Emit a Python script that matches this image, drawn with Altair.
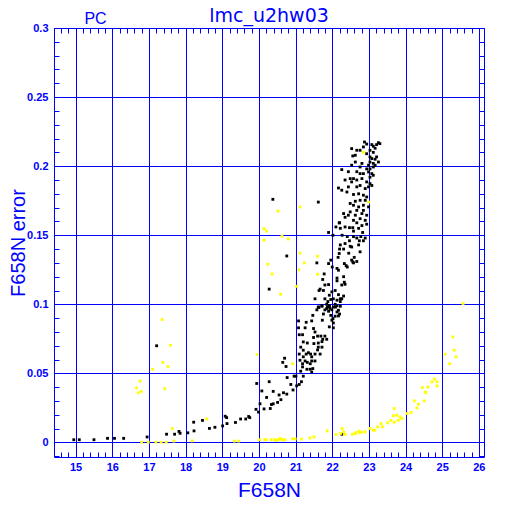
import altair as alt
import pandas as pd

# ---- data ----
BLACK_MAG = [
    14.95, 15.1, 15.5, 15.87, 16.06, 16.31, 16.95, 17.21, 17.48, 17.7, 17.82, 17.85, 18.06, 18.22, 18.23,
    18.46, 18.65, 18.8, 19.01, 19.08, 19.12, 19.13, 19.36, 19.5, 19.64, 19.72, 19.75, 19.92, 19.94, 19.99,
    20.03, 20.08, 20.14, 20.21, 20.28, 20.31, 20.34, 20.39, 20.39, 20.51, 20.55, 20.6, 20.67, 20.76, 20.77,
    20.87, 20.93, 20.96, 21.03, 21.1, 21.16, 20.65, 20.74, 20.7, 22.26,
    21.08, 21.08, 21.1, 21.19, 21.29, 21.44, 21.62, 21.72, 21.76, 21.73, 21.8, 21.85, 21.92, 21.9, 21.94,
    21.99, 22.03, 22.09, 22.13, 22.2, 22.17, 22.22, 21.92, 22.03, 21.26, 21.49, 21.53, 21.6, 21.69, 21.8,
    21.85, 21.74, 21.72, 21.49, 21.5, 21.62, 21.62, 21.72, 21.6, 21.67, 21.53, 21.41, 21.35, 21.29, 21.21,
    21.26, 21.32, 21.44, 21.4, 21.53, 21.44, 21.19, 21.31, 21.4, 21.47, 21.44, 21.14, 21.21, 21.01, 21.19,
    21.12, 21.1, 21.14, 21.21, 21.32, 21.21, 21.58, 21.47, 21.96, 22.08, 22.02, 21.88, 22.13, 22.17,
    22.1, 22.2, 22.22, 22.35, 22.47, 22.56, 22.58, 22.72, 22.81, 22.94, 22.83, 22.67, 21.9, 22.02, 22.27,
    22.41, 22.47, 22.58, 22.67, 22.74, 22.78, 22.85, 22.9, 22.22, 22.35, 22.49, 22.53, 22.72, 22.2, 22.31,
    22.45, 22.76, 22.6, 22.67, 22.53, 22.58, 22.33, 22.38, 22.16, 22.19, 21.96, 21.9, 21.58, 22.0, 22.13,
    22.17, 22.31, 22.33, 22.35, 22.26, 22.13, 22.13, 22.08, 21.78, 21.8, 21.9, 21.76, 21.67, 21.53, 21.8,
    21.92, 21.99, 21.96, 22.03, 22.17, 22.22, 22.26, 22.31, 22.13, 21.92, 22.03, 22.08, 21.72, 21.85,
    21.99, 21.62, 22.22, 22.41, 22.56, 20.38, 21.62, 20.76, 20.28, 21.74, 21.64, 21.64, 21.87,
    22.88, 22.94, 23.08, 23.12, 23.17, 23.21, 23.26, 23.3, 22.85, 22.76, 22.67, 22.53, 22.56, 22.63, 22.94,
    23.03, 23.12, 23.03, 23.08, 23.17, 23.21, 23.26, 23.17, 23.12, 23.03, 22.99, 22.81, 22.63, 22.53, 22.76,
    22.94, 23.03, 23.12, 22.99, 23.08, 23.12, 23.03, 22.85, 22.76, 22.67, 22.26, 22.44, 22.49, 22.58, 22.67,
    22.81, 22.94, 23.03, 23.08, 22.99, 22.9, 22.76, 22.67, 22.53, 22.44, 22.35, 22.17, 22.26, 22.4, 22.58,
    22.72, 22.85, 22.94, 22.9, 22.76, 22.63, 22.49, 22.58, 22.72, 22.85, 22.99, 22.85, 22.67, 22.49, 22.31,
    22.44, 22.63, 22.81, 22.94, 22.76, 22.9, 22.58, 22.35, 22.19,
]
BLACK_ERR = [
    0.002, 0.002, 0.002, 0.003, 0.003, 0.003, 0.004, 0.070, 0.006, 0.006, 0.008, 0.0067, 0.007, 0.0147, 0.0084,
    0.016, 0.0102, 0.011, 0.012, 0.019, 0.018, 0.0137, 0.0145, 0.017, 0.017, 0.0188, 0.018, 0.024, 0.0427, 0.022,
    0.028, 0.0373, 0.0243, 0.0326, 0.044, 0.0246, 0.0275, 0.028, 0.037, 0.029, 0.0344, 0.031, 0.036, 0.035, 0.047,
    0.042, 0.038, 0.048, 0.041, 0.042, 0.044, 0.058, 0.055, 0.061, 0.006,
    0.088, 0.083, 0.078, 0.078, 0.087, 0.088, 0.098, 0.099, 0.093, 0.0885, 0.096, 0.1, 0.099, 0.095, 0.097,
    0.0885, 0.0865, 0.098, 0.0945, 0.093, 0.0916, 0.102, 0.0837, 0.083, 0.083, 0.0825, 0.08, 0.077, 0.077, 0.077,
    0.0747, 0.0747, 0.073, 0.076, 0.0716, 0.072, 0.069, 0.069, 0.067, 0.064, 0.064, 0.064, 0.065, 0.064, 0.062,
    0.059, 0.058, 0.059, 0.057, 0.059, 0.062, 0.057, 0.053, 0.053, 0.0535, 0.051, 0.0516, 0.048, 0.048, 0.0547,
    0.0595, 0.064, 0.069, 0.0728, 0.072, 0.0668, 0.096, 0.092, 0.092, 0.0914, 0.0897, 0.102, 0.099, 0.0957,
    0.156, 0.159, 0.155, 0.156, 0.1555, 0.1555, 0.153, 0.155, 0.157, 0.158, 0.152, 0.159, 0.152, 0.15, 0.15,
    0.149, 0.146, 0.149, 0.148, 0.146, 0.149, 0.146, 0.148, 0.143, 0.144, 0.142, 0.1415, 0.143, 0.14, 0.14,
    0.137, 0.138, 0.134, 0.131, 0.132, 0.13, 0.1295, 0.128, 0.134, 0.1368, 0.132, 0.1295, 0.13, 0.127, 0.126,
    0.1247, 0.12, 0.116, 0.1145, 0.114, 0.119, 0.117, 0.11, 0.122, 0.114, 0.1143, 0.11, 0.111, 0.104, 0.104,
    0.1066, 0.109, 0.1035, 0.104, 0.107, 0.104, 0.104, 0.106, 0.103, 0.0986, 0.098, 0.1, 0.0986, 0.097,
    0.096, 0.0977, 0.0986, 0.127, 0.1307, 0.176, 0.174, 0.135, 0.111, 0.118, 0.11, 0.098, 0.098,
    0.2175, 0.216, 0.2156, 0.2144, 0.213, 0.2156, 0.217, 0.2163, 0.2139, 0.2115, 0.2115, 0.2127, 0.2074, 0.2079, 0.209,
    0.2115, 0.21, 0.2067, 0.2055, 0.205, 0.2067, 0.203, 0.2007, 0.202, 0.203, 0.2007, 0.202, 0.203, 0.2007, 0.1994,
    0.198, 0.198, 0.1994, 0.1958, 0.1946, 0.1934, 0.192, 0.1946, 0.1946, 0.196, 0.1975, 0.196, 0.191, 0.191, 0.19,
    0.191, 0.1886, 0.1874, 0.186, 0.185, 0.1838, 0.186, 0.185, 0.1886, 0.185, 0.19, 0.1842, 0.1826, 0.1813, 0.1795,
    0.18, 0.179, 0.1777, 0.1753, 0.1753, 0.1746, 0.173, 0.1717, 0.1705, 0.1717, 0.1705, 0.168, 0.168, 0.1669, 0.1657,
    0.1645, 0.1645, 0.1657, 0.1645, 0.162, 0.1608, 0.1608, 0.163, 0.159,
]
YELLOW_MAG = [
    17.36, 17.59, 17.38, 17.52, 17.1, 16.76, 16.66, 16.71, 16.79, 17.43, 18.58, 17.64, 18.18, 16.8, 16.98,
    17.19, 17.33, 17.47, 17.68, 19.33, 19.45, 20.02, 20.16, 20.33, 20.47, 20.53, 20.6, 20.65, 20.71, 20.92,
    20.99, 21.16, 21.39, 21.5, 21.86, 22.1, 22.27, 22.31, 22.35, 22.55, 22.65, 22.73, 22.81, 22.9, 23.03,
    23.12, 23.16, 23.24, 23.33, 23.37, 23.51, 23.6, 23.69, 23.67, 23.76, 23.8, 23.85, 23.9, 24.04, 24.15,
    24.24, 24.31, 24.35, 24.46, 24.54, 24.51, 24.61, 24.72, 24.86, 24.86, 24.79, 24.55, 23.69, 22.76, 22.63,
    22.23, 20.2, 20.42, 20.57,
    25.08, 25.2, 25.29, 25.33, 25.38, 25.57, 19.95, 22.85, 22.99, 20.52, 21.12, 20.14, 20.21, 20.14, 20.63,
    20.8, 21.12, 21.24, 21.6, 20.24, 21.09, 20.36, 21.6, 21.03, 20.59, 20.92,
]
YELLOW_ERR = [
    0.089, 0.0704, 0.058, 0.055, 0.053, 0.0444, 0.0395, 0.036, 0.037, 0.039, 0.017, 0.0101, 0.0012, 0.0002, 0.0002,
    0.0002, 0.0002, 0.0002, 0.001, 0.001, 0.001, 0.002, 0.002, 0.002, 0.0017, 0.002, 0.0026, 0.002, 0.002, 0.0026,
    0.0026, 0.0024, 0.0033, 0.004, 0.0084, 0.0058, 0.0101, 0.0077, 0.0058, 0.006, 0.0072, 0.0082, 0.0075, 0.0077, 0.0101,
    0.0089, 0.0089, 0.0113, 0.0137, 0.0113, 0.0142, 0.016, 0.0246, 0.0193, 0.0198, 0.016, 0.0185, 0.0174, 0.021, 0.0217,
    0.0301, 0.025, 0.0277, 0.0398, 0.0366, 0.0301, 0.0402, 0.0439, 0.0439, 0.041, 0.0458, 0.036, 0.0147, 0.0072, 0.0065,
    0.0065, 0.002, 0.002, 0.0025,
    0.0639, 0.057, 0.0764, 0.0668, 0.062, 0.1006, 0.0637, 0.21, 0.174, 0.1674, 0.1705, 0.1548, 0.153, 0.1464, 0.1493,
    0.1473, 0.137, 0.13, 0.1348, 0.129, 0.125, 0.122, 0.1218, 0.113, 0.1073, 0.057,
]

X_LABEL_TICKS = [15, 16, 17, 18, 19, 20, 21, 22, 23, 24, 25, 26]
Y_LABEL_TICKS = [0, 0.05, 0.1, 0.15, 0.2, 0.25, 0.3]
X_MINOR_TICKS = [round(14.6 + 0.2 * i, 1) for i in range(58)]
Y_MINOR_TICKS = [round(0.01 * i, 2) for i in range(-1, 31)]

TITLE = ["lmc_u2hw03"]
CORNER_LABEL = ["PC"]

BLUE = "#0000ff"
W, H = 430, 429
LABEL_FONT = "Liberation Sans"

black_df = pd.DataFrame({"mag": BLACK_MAG, "err": BLACK_ERR})
yellow_df = pd.DataFrame({"mag": YELLOW_MAG, "err": YELLOW_ERR})
corner_df = pd.DataFrame({"label": CORNER_LABEL})
title_df = pd.DataFrame({"label": TITLE})

xs = alt.Scale(domain=[14.41, 26.14], nice=False, zero=False)
ys = alt.Scale(domain=[-0.0105, 0.3], nice=False, zero=False)


def minor_axis(orient, offset, values):
    return alt.Axis(orient=orient, offset=offset, values=values, ticks=True, tickSize=5,
                    tickColor=BLUE, tickWidth=1, labels=False, domain=False, grid=False)


# invisible carrier for the top / right inward minor ticks
carrier = alt.Chart(black_df).mark_point(opacity=0).encode(
    x=alt.X("mag:Q", scale=xs, title=None, axis=minor_axis("bottom", -H, X_MINOR_TICKS)),
    y=alt.Y("err:Q", scale=ys, title=None, axis=minor_axis("left", -W, Y_MINOR_TICKS)),
)

black = alt.Chart(black_df).mark_square(size=8, color="black", opacity=1).encode(
    x=alt.X("mag:Q", scale=xs, title="F658N",
            axis=alt.Axis(orient="bottom", values=X_LABEL_TICKS, format="d", grid=True,
                          gridColor=BLUE, gridOpacity=1, gridWidth=1, ticks=False, tickSize=0,
                          domain=False, labelColor=BLUE, labelFont=LABEL_FONT, labelFontSize=11,
                          labelFontWeight="bold", labelPadding=4, labelFlush=False, labelOverlap=False,
                          titleFont="Liberation Sans", titleFontSize=21, titleFontWeight="normal",
                          titleColor=BLUE, titleY=22, titleBaseline="top")),
    y=alt.Y("err:Q", scale=ys, title="F658N error",
            axis=alt.Axis(orient="left", values=Y_LABEL_TICKS, format="~g", grid=True,
                          gridColor=BLUE, gridOpacity=1, gridWidth=1, ticks=False, tickSize=0,
                          domain=False, labelColor=BLUE, labelFont=LABEL_FONT, labelFontSize=11,
                          labelFontWeight="bold", labelPadding=6, labelFlush=False, labelOverlap=False,
                          titleFont="Liberation Sans", titleFontSize=20, titleFontWeight="normal",
                          titleColor=BLUE, titleAngle=270, titleX=-45.5, titleBaseline="top")),
)

yellow = alt.Chart(yellow_df).mark_square(size=8, color="#ffff00", opacity=1).encode(
    x=alt.X("mag:Q", scale=xs, title=None, axis=minor_axis("top", -H, X_MINOR_TICKS)),
    y=alt.Y("err:Q", scale=ys, title=None, axis=minor_axis("right", -W, Y_MINOR_TICKS)),
)

corner = alt.Chart(corner_df).mark_text(font="Liberation Sans", fontSize=16, color=BLUE,
                                        align="center", baseline="alphabetic").encode(
    text="label:N", x=alt.value(41.5), y=alt.value(-4),
)

title = alt.Chart(title_df).mark_text(font="DejaVu Sans", fontSize=19, color=BLUE,
                                      align="center", baseline="alphabetic").encode(
    text="label:N", x=alt.value(W / 2), y=alt.value(-6),
)

chart = alt.layer(carrier, black, yellow, corner, title).resolve_axis(
    x="independent", y="independent"
).properties(
    width=W, height=H,
    autosize=alt.AutoSizeParams(type="none"),
    padding={"left": 46, "top": 20, "right": 20, "bottom": 50},
    background="white",
).configure_view(stroke=BLUE, strokeWidth=1)

chart.save("out.html", embed_options={"renderer": "svg", "actions": False})
